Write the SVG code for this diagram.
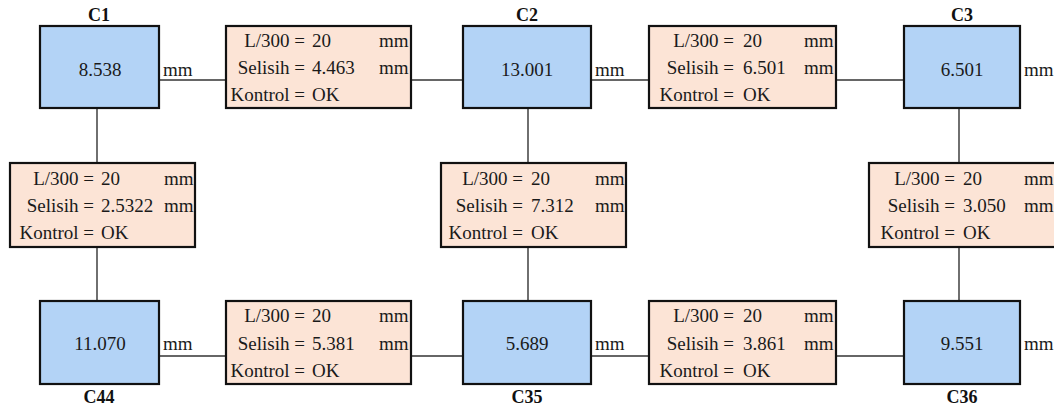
<svg xmlns="http://www.w3.org/2000/svg" width="1054" height="410" viewBox="0 0 1054 410">
<style>
.col{fill:#B3D3F6;stroke:#111;stroke-width:2.2}
.chk{fill:#FCE4D6;stroke:#111;stroke-width:2.2}
.t{font-family:"Liberation Serif","Times New Roman",serif;font-size:19px;fill:#1a1a1a}
.e{text-anchor:end}
.m{text-anchor:middle}
.lb{font-family:"Liberation Serif","Times New Roman",serif;font-size:18px;font-weight:bold;fill:#111;text-anchor:middle}
.cn{stroke:#333;stroke-width:1.4;fill:none}
</style>
<rect width="1054" height="410" fill="#fff"/>
<g id="connectors">
<line class="cn" x1="159" y1="80" x2="226" y2="80"/>
<line class="cn" x1="411" y1="80" x2="463" y2="80"/>
<line class="cn" x1="591" y1="80" x2="649" y2="80"/>
<line class="cn" x1="836" y1="80" x2="904" y2="80"/>
<line class="cn" x1="159" y1="356" x2="226" y2="356"/>
<line class="cn" x1="411" y1="356" x2="463" y2="356"/>
<line class="cn" x1="591" y1="356" x2="649" y2="356"/>
<line class="cn" x1="836" y1="356" x2="904" y2="356"/>
<line class="cn" x1="97" y1="108" x2="97" y2="163"/>
<line class="cn" x1="97" y1="247" x2="97" y2="301"/>
<line class="cn" x1="528" y1="108" x2="528" y2="163"/>
<line class="cn" x1="528" y1="247" x2="528" y2="301"/>
<line class="cn" x1="959" y1="108" x2="959" y2="163"/>
<line class="cn" x1="959" y1="247" x2="959" y2="301"/>
</g>
<g id="C1">
<rect class="col" x="40" y="26" width="119" height="82"/>
<text class="lb" x="99" y="21">C1</text>
<text class="t m" x="100" y="76">8.538</text>
<text class="t" x="163" y="76">mm</text>
</g>
<g id="C2">
<rect class="col" x="463" y="26" width="128" height="82"/>
<text class="lb" x="527" y="21">C2</text>
<text class="t m" x="527" y="76">13.001</text>
<text class="t" x="595" y="76">mm</text>
</g>
<g id="C3">
<rect class="col" x="904" y="26" width="116" height="82"/>
<text class="lb" x="962" y="21">C3</text>
<text class="t m" x="962" y="76">6.501</text>
<text class="t" x="1024" y="76">mm</text>
</g>
<g id="C44">
<rect class="col" x="40" y="301" width="119" height="83"/>
<text class="lb" x="99" y="403">C44</text>
<text class="t m" x="100" y="350">11.070</text>
<text class="t" x="163" y="350">mm</text>
</g>
<g id="C35">
<rect class="col" x="463" y="301" width="128" height="83"/>
<text class="lb" x="527" y="403">C35</text>
<text class="t m" x="527" y="350">5.689</text>
<text class="t" x="595" y="350">mm</text>
</g>
<g id="C36">
<rect class="col" x="904" y="301" width="116" height="83"/>
<text class="lb" x="962" y="403">C36</text>
<text class="t m" x="962" y="350">9.551</text>
<text class="t" x="1024" y="350">mm</text>
</g>
<g id="check-C1-C2">
<rect class="chk" x="226" y="26" width="185" height="82"/>
<text class="t e" x="305" y="47">L/300 =</text><text class="t" x="312" y="47">20</text><text class="t" x="379" y="47">mm</text>
<text class="t e" x="305" y="74">Selisih =</text><text class="t" x="312" y="74">4.463</text><text class="t" x="379" y="74">mm</text>
<text class="t e" x="305" y="101">Kontrol =</text><text class="t" x="312" y="101">OK</text>
</g>
<g id="check-C2-C3">
<rect class="chk" x="649" y="26" width="187" height="82"/>
<text class="t e" x="734" y="47">L/300 =</text><text class="t" x="743" y="47">20</text><text class="t" x="804" y="47">mm</text>
<text class="t e" x="734" y="74">Selisih =</text><text class="t" x="743" y="74">6.501</text><text class="t" x="804" y="74">mm</text>
<text class="t e" x="734" y="101">Kontrol =</text><text class="t" x="743" y="101">OK</text>
</g>
<g id="check-C1-C44">
<rect class="chk" x="10" y="163" width="185" height="84"/>
<text class="t e" x="94" y="185">L/300 =</text><text class="t" x="101" y="185">20</text><text class="t" x="164" y="185">mm</text>
<text class="t e" x="94" y="212">Selisih =</text><text class="t" x="101" y="212">2.5322</text><text class="t" x="164" y="212">mm</text>
<text class="t e" x="94" y="239">Kontrol =</text><text class="t" x="101" y="239">OK</text>
</g>
<g id="check-C2-C35">
<rect class="chk" x="441" y="163" width="185" height="84"/>
<text class="t e" x="523" y="185">L/300 =</text><text class="t" x="531" y="185">20</text><text class="t" x="595" y="185">mm</text>
<text class="t e" x="523" y="212">Selisih =</text><text class="t" x="531" y="212">7.312</text><text class="t" x="595" y="212">mm</text>
<text class="t e" x="523" y="239">Kontrol =</text><text class="t" x="531" y="239">OK</text>
</g>
<g id="check-C3-C36">
<rect class="chk" x="869" y="163" width="190" height="84"/>
<text class="t e" x="955" y="185">L/300 =</text><text class="t" x="963" y="185">20</text><text class="t" x="1024" y="185">mm</text>
<text class="t e" x="955" y="212">Selisih =</text><text class="t" x="963" y="212">3.050</text><text class="t" x="1024" y="212">mm</text>
<text class="t e" x="955" y="239">Kontrol =</text><text class="t" x="963" y="239">OK</text>
</g>
<g id="check-C44-C35">
<rect class="chk" x="226" y="301" width="185" height="83"/>
<text class="t e" x="305" y="322">L/300 =</text><text class="t" x="312" y="322">20</text><text class="t" x="379" y="322">mm</text>
<text class="t e" x="305" y="350">Selisih =</text><text class="t" x="312" y="350">5.381</text><text class="t" x="379" y="350">mm</text>
<text class="t e" x="305" y="377">Kontrol =</text><text class="t" x="312" y="377">OK</text>
</g>
<g id="check-C35-C36">
<rect class="chk" x="649" y="301" width="187" height="83"/>
<text class="t e" x="734" y="322">L/300 =</text><text class="t" x="743" y="322">20</text><text class="t" x="804" y="322">mm</text>
<text class="t e" x="734" y="350">Selisih =</text><text class="t" x="743" y="350">3.861</text><text class="t" x="804" y="350">mm</text>
<text class="t e" x="734" y="377">Kontrol =</text><text class="t" x="743" y="377">OK</text>
</g>
</svg>
